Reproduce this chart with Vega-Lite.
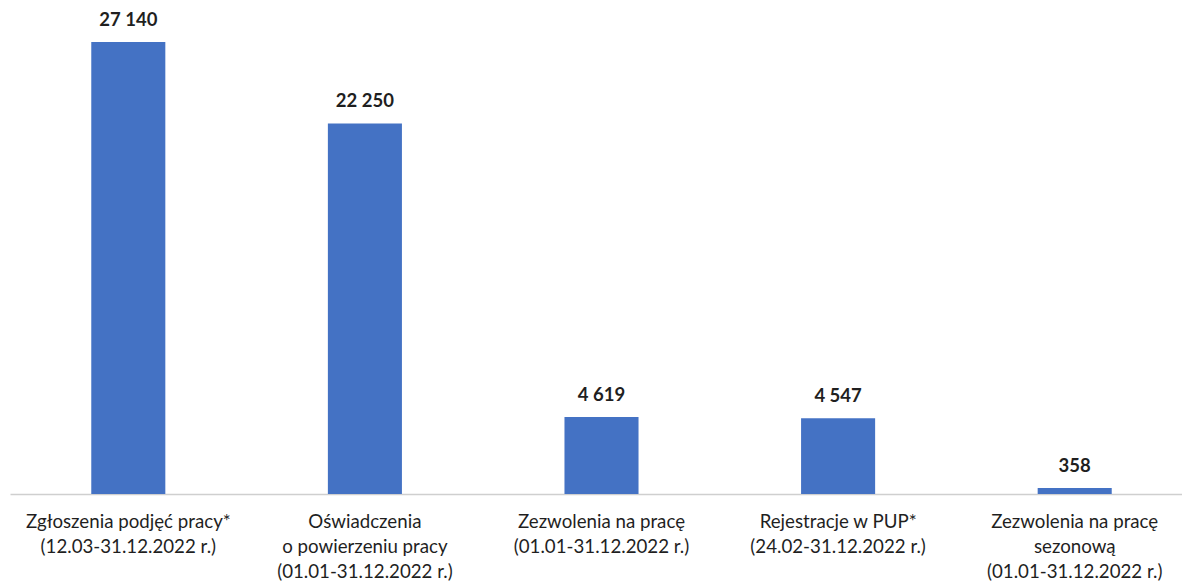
{
  "$schema": "https://vega.github.io/schema/vega-lite/v6.json",
  "width": 1183,
  "height": 494,
  "autosize": {"type": "none"},
  "padding": {"left": 10, "top": 0, "right": 0, "bottom": 87},
  "background": "white",
  "config": {"view": {"stroke": null}, "font": "Lato"},
  "data": {
    "values": [
      {"kat": "Zgłoszenia podjęć pracy*|(12.03-31.12.2022 r.)", "wartosc": 27140, "etykieta": "27 140"},
      {"kat": "Oświadczenia|o powierzeniu pracy|(01.01-31.12.2022 r.)", "wartosc": 22250, "etykieta": "22 250"},
      {"kat": "Zezwolenia na pracę|(01.01-31.12.2022 r.)", "wartosc": 4619, "etykieta": "4 619"},
      {"kat": "Rejestracje w PUP*|(24.02-31.12.2022 r.)", "wartosc": 4547, "etykieta": "4 547"},
      {"kat": "Zezwolenia na pracę|sezonową|(01.01-31.12.2022 r.)", "wartosc": 358, "etykieta": "358"}
    ]
  },
  "encoding": {
    "x": {
      "field": "kat", "type": "nominal", "sort": null,
      "scale": {"paddingInner": 0.687, "paddingOuter": 0.3435},
      "axis": {
        "title": null, "labelAngle": 0, "labelExpr": "split(datum.label, '|')",
        "labelFontSize": 18.7, "labelColor": "#1f1f1f", "labelLineHeight": 25,
        "labelPadding": 18, "ticks": false, "domainColor": "#cfcfcf", "domainWidth": 1.5,
        "labelBaseline": "top", "labelLimit": 0
      }
    },
    "y": {
      "field": "wartosc", "type": "quantitative",
      "scale": {"domain": [0, 29660], "nice": false, "zero": true},
      "axis": null
    }
  },
  "layer": [
    {"mark": {"type": "bar", "color": "#4472C4"}},
    {
      "mark": {"type": "text", "dy": -12, "baseline": "bottom", "fontWeight": "bold", "fontSize": 18.5, "color": "#1f1f1f"},
      "encoding": {"text": {"field": "etykieta"}}
    }
  ]
}
